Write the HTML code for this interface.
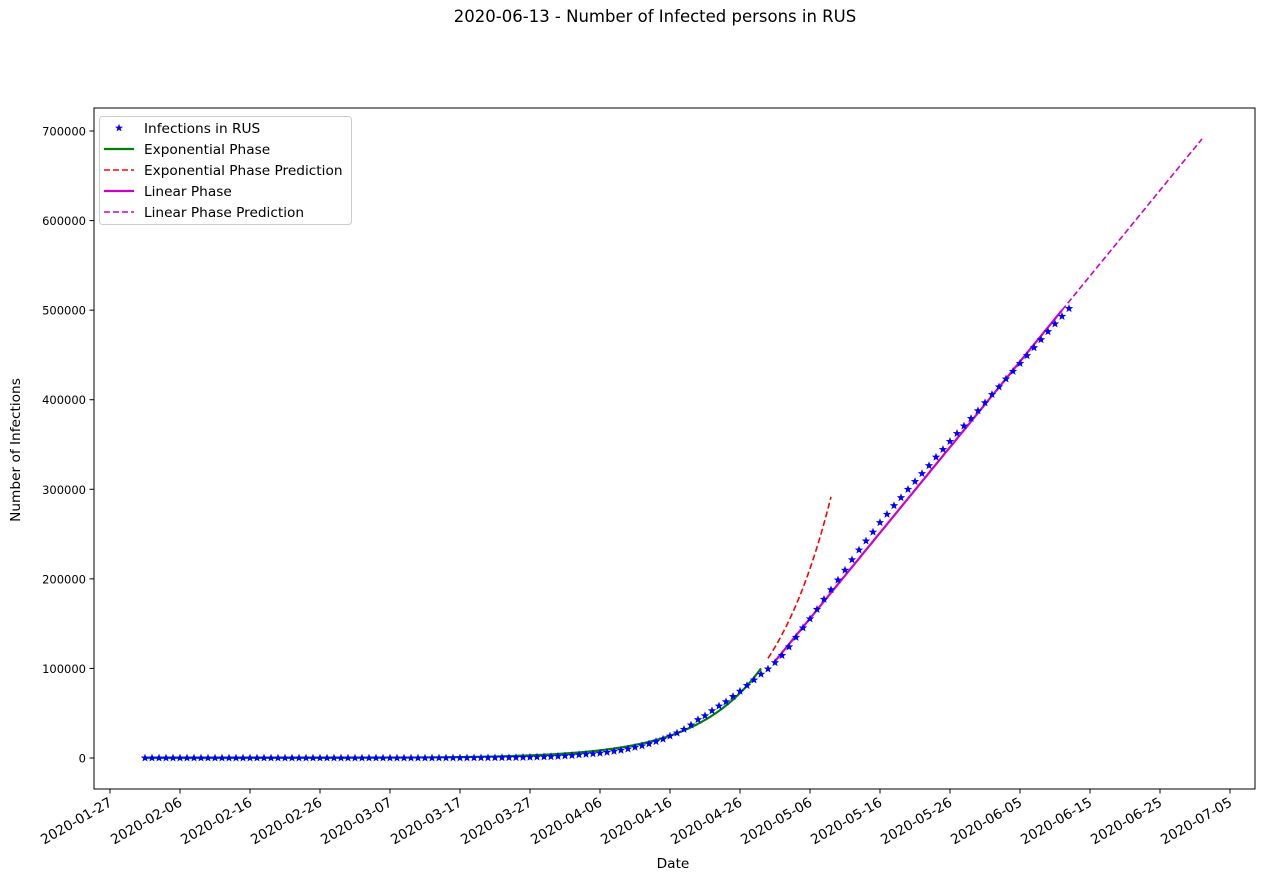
<!DOCTYPE html>
<html><head><meta charset="utf-8"><style>
html,body{margin:0;padding:0;background:#fff;}
svg{display:block;font-family:"DejaVu Sans","Liberation Sans",sans-serif;}
</style></head><body>
<svg id="chart" width="1265" height="881" viewBox="0 0 1265 881">
<text x="655" y="22" font-size="16.5" text-anchor="middle">2020-06-13 - Number of Infected persons in RUS</text>
<rect x="94" y="108" width="1161" height="681" fill="none" stroke="#000" stroke-width="1"/>
<g id="xticks"></g>
<g id="yticks"></g>
<g id="series"></g>
<text x="673" y="868" font-size="13.7" text-anchor="middle">Date</text>
<text x="20" y="450" font-size="13.7" text-anchor="middle" transform="rotate(-90 20 450)">Number of Infections</text>
<g>
<rect x="99.5" y="116.5" width="252" height="108" rx="3" fill="#fff" fill-opacity="0.8" stroke="#ccc"/>
<g><path id="legstar" fill="#00f"/><text x="144" y="133" font-size="13.7">Infections in RUS</text></g>
<g><line x1="104" y1="149" x2="134" y2="149" stroke="#008000" stroke-width="2.2"/><text x="144" y="154" font-size="13.7">Exponential Phase</text></g>
<g><line x1="104" y1="170" x2="134" y2="170" stroke="#f00" stroke-width="1.6" stroke-dasharray="6,3"/><text x="144" y="175" font-size="13.7">Exponential Phase Prediction</text></g>
<g><line x1="104" y1="191" x2="134" y2="191" stroke="#c0c" stroke-width="2.2"/><text x="144" y="196" font-size="13.7">Linear Phase</text></g>
<g><line x1="104" y1="212" x2="134" y2="212" stroke="#c0c" stroke-width="1.6" stroke-dasharray="6,3"/><text x="144" y="217" font-size="13.7">Linear Phase Prediction</text></g>
</g>
</svg>
<script>
const startDate = "2020-02-01";
const infections = [2,2,2,2,2,2,2,2,2,2,2,2,2,2,2,2,2,2,2,2,2,2,2,2,2,2,2,2,2,2,2,
3,3,3,4,13,13,17,17,20,20,28,45,59,63,90,114,147,199,253,306,367,438,495,658,840,1036,1264,1534,1836,2337,
2777,3548,4149,4731,5389,6343,7497,8672,10131,11917,13584,15770,18328,21102,24490,27938,32008,36793,42853,47121,52763,57999,62773,68622,74588,80949,87147,93558,99399,106498,
114431,124054,134686,145268,155370,165929,177160,187859,198676,209688,221344,232243,242271,252245,262843,272043,281752,290678,299941,308705,317554,326448,335882,344481,353427,362342,370680,379051,387623,396575,405843,
414328,423186,431715,440538,449256,458102,467073,476043,484630,493023,501800];
const xTickLabels = ["2020-01-27","2020-02-06","2020-02-16","2020-02-26","2020-03-07","2020-03-17","2020-03-27","2020-04-06","2020-04-16","2020-04-26","2020-05-06","2020-05-16","2020-05-26","2020-06-05","2020-06-15","2020-06-25","2020-07-05"];
const yTickValues = [0,100000,200000,300000,400000,500000,600000,700000];
// fit parameters (day = days since 2020-01-27)
const expParams = [100000, 0.107, 93];
const expRange = [5, 93];
const expPredRange = [94, 103];
const linParams = [108000, 9560, 95];
const linRange = [95, 136];
const linPredRange = [136, 156];

const NS="http://www.w3.org/2000/svg";
const origin=Date.UTC(2020,0,27);
function dayOf(s){const p=s.split("-");return (Date.UTC(+p[0],p[1]-1,+p[2])-origin)/86400000;}
function X(day){return 110+day*7.0;}
function Y(v){return 758-v*0.0008957;}
function mk(tag,attrs,parent){const e=document.createElementNS(NS,tag);for(const k in attrs)e.setAttribute(k,attrs[k]);parent.appendChild(e);return e;}
function star(cx,cy,R){const r=R*0.42;let d="";for(let i=0;i<10;i++){const a=-Math.PI/2+i*Math.PI/5;const rr=i%2?r:R;d+=(i?"L":"M")+(cx+rr*Math.cos(a)).toFixed(2)+","+(cy+rr*Math.sin(a)).toFixed(2);}return d+"Z";}
document.getElementById("legstar").setAttribute("d",star(119,128,4.2));

const xg=document.getElementById("xticks");
xTickLabels.forEach(l=>{const x=X(dayOf(l));
  const t=mk("line",{x1:x,y1:789,x2:x,y2:793.5,stroke:"#000"},xg);
  
  
  const tx=mk("text",{x:x+3,y:805,"font-size":"13.7","text-anchor":"end",transform:"rotate(-30 "+(x+3)+" 805)"},xg);
  tx.textContent=l;
  
  
});
const yg=document.getElementById("yticks");
yTickValues.forEach(v=>{const y=Y(v);
  const t=mk("line",{x1:89.5,y1:y,x2:94,y2:y,stroke:"#000"},yg);
  
  
  const tx=mk("text",{x:86,y:y+4.5,"font-size":"11.5","text-anchor":"end"},yg);
  tx.textContent=String(v);
  
  
});
const sg=document.getElementById("series");
function curve(f,range,attrs,name){let pts=[];for(let d=range[0];d<=range[1]+1e-9;d+=0.25)pts.push(X(d).toFixed(2)+","+Y(f(d)).toFixed(2));
  attrs.points=pts.join(" ");attrs.fill="none";const p=mk("polyline",attrs,sg);
  
  }
const expF=d=>expParams[0]*Math.exp(expParams[1]*(d-expParams[2]));
const linF=d=>linParams[0]+linParams[1]*(d-linParams[2]);
curve(expF,expRange,{stroke:"#008000","stroke-width":2.2},"exponential-phase-line");
curve(expF,expPredRange,{stroke:"#f00","stroke-width":1.6,"stroke-dasharray":"6,3"},"exponential-prediction-line");
curve(linF,linRange,{stroke:"#c0c","stroke-width":2.2},"linear-phase-line");
curve(linF,linPredRange,{stroke:"#c0c","stroke-width":1.6,"stroke-dasharray":"6,3"},"linear-prediction-line");
const d0=dayOf(startDate);
infections.forEach((v,i)=>{const p=mk("path",{d:star(X(d0+i),Y(v),4.4),fill:"#00f"},sg);
  
  });
</script>
</body></html>
